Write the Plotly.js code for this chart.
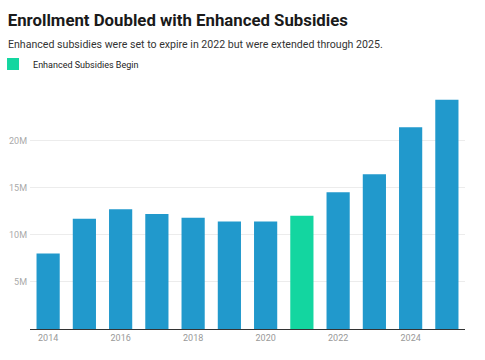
<!DOCTYPE html>
<html>
<head>
<meta charset="utf-8">
<script src="https://cdn.plot.ly/plotly-3.0.1.min.js"></script>
<style>html,body{margin:0;padding:0;background:#fff;}#chart{width:485px;height:360px;}</style>
</head>
<body>
<div id="chart"></div>
<script>
var years = [2014, 2015, 2016, 2017, 2018, 2019, 2020, 2021, 2022, 2023, 2024, 2025];
var enrollment = [8.0, 11.7, 12.7, 12.2, 11.8, 11.4, 11.4, 12.0, 14.5, 16.4, 21.4, 24.3];
var subsidyYear = 2021;
var legendLabel = "Enhanced Subsidies Begin";
var tickVals = [0, 5, 10, 15, 20];
var tickText = ["", "5M", "10M", "15M", "20M"];
var xTicks = [2014, 2016, 2018, 2020, 2022, 2024];

var blueX = [], blueY = [], greenX = [], greenY = [];
years.forEach(function (y, i) {
  if (y === subsidyYear) { greenX.push(y); greenY.push(enrollment[i]); }
  else { blueX.push(y); blueY.push(enrollment[i]); }
});

var traces = [
  {type: "bar", x: blueX, y: blueY, marker: {color: "#2199cc"}, showlegend: false, hoverinfo: "x+y", width: 0.64},
  {type: "bar", x: greenX, y: greenY, name: legendLabel, marker: {color: "#13d6a0"}, showlegend: true, hoverinfo: "x+y", width: 0.64}
];

var layout = {
  width: 485, height: 360,
  margin: {l: 30, r: 20, t: 97, b: 31, autoexpand: false},
  paper_bgcolor: "#fff", plot_bgcolor: "#fff",
  font: {family: "Roboto, sans-serif", color: "#888"},
  barmode: "overlay",
  title: {
    text: "<b>Enrollment Doubled with Enhanced Subsidies</b>",
    font: {family: "Roboto, sans-serif", size: 16.8, color: "#1a1a1a"},
    x: 0.016, xanchor: "left", xref: "container", y: 0.944, yanchor: "middle", yref: "container"
  },
  annotations: [{
    text: "Enhanced subsidies were set to expire in 2022 but were extended through 2025.",
    xref: "paper", yref: "paper", x: -0.056, y: 1.228, xanchor: "left", yanchor: "middle",
    showarrow: false, font: {family: "Roboto, sans-serif", size: 10.6, color: "#333"}
  }],
  showlegend: true,
  legend: {
    x: -0.085, y: 1.142, xanchor: "left", yanchor: "middle", orientation: "h",
    font: {family: "Roboto, sans-serif", size: 9, color: "#222"},
    bgcolor: "rgba(0,0,0,0)"
  },
  xaxis: {
    type: "linear", range: [2013.5, 2025.5], automargin: false,
    tickmode: "array", tickvals: xTicks, ticktext: xTicks.map(String),
    showgrid: false, zeroline: false, showline: true, linecolor: "#333", linewidth: 1,
    ticks: "", tickfont: {size: 9, color: "#999"}
  },
  yaxis: {
    range: [0, 24.6], automargin: false, tickmode: "array", tickvals: tickVals, ticktext: tickText,
    showgrid: true, gridcolor: "#ececec", gridwidth: 1, zeroline: false,
    ticks: "", tickfont: {size: 9, color: "#aaa"}, ticklabelstandoff: 2
  }
};

Plotly.newPlot("chart", traces, layout, {displayModeBar: false, staticPlot: true});
</script>
</body>
</html>
